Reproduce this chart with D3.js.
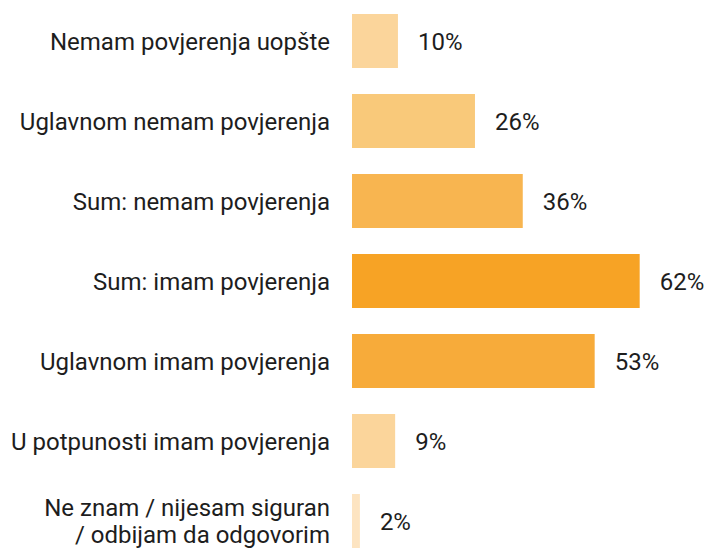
<!DOCTYPE html>
<html>
<head>
<meta charset="utf-8">
<script src="https://cdn.jsdelivr.net/npm/d3@7"></script>
<style>
  html, body { margin: 0; padding: 0; background: #ffffff; }
  svg { display: block; }
  text { font-family: Roboto, "Noto Sans", sans-serif; fill: #1d1d1d; }
</style>
</head>
<body>
<svg id="chart" width="705" height="548"></svg>
<script>
const categories = [
  "Nemam povjerenja uopšte",
  "Uglavnom nemam povjerenja",
  "Sum: nemam povjerenja",
  "Sum: imam povjerenja",
  "Uglavnom imam povjerenja",
  "U potpunosti imam povjerenja",
  "Ne znam / nijesam siguran\n/ odbijam da odgovorim"
];
const values = [9.9, 26.5, 36.8, 62, 52.3, 9.3, 1.7];
const valueLabels = ["10%", "26%", "36%", "62%", "53%", "9%", "2%"];
const colors = ["#FBD59B", "#F9C97A", "#F8B550", "#F7A325", "#F7AB3A", "#FBD59B", "#FDE4C1"];

const svg = d3.select("#chart");
const x0 = 352;
const x = d3.scaleLinear().domain([0, 100]).range([x0, x0 + 464]);
const y = d3.scaleBand()
  .domain(categories)
  .range([1, 561])
  .paddingInner(0.325)
  .paddingOuter(0.1625);

svg.selectAll("rect.bar")
  .data(categories)
  .join("rect")
  .attr("class", "bar")
  .attr("x", x(0))
  .attr("y", d => y(d))
  .attr("width", (d, i) => x(values[i]) - x(0))
  .attr("height", y.bandwidth())
  .attr("fill", (d, i) => colors[i]);

const fs = 24;
const lineH = 27;

svg.selectAll("text.cat")
  .data(categories)
  .join("text")
  .attr("class", "cat")
  .attr("text-anchor", "end")
  .attr("font-size", fs)
  .each(function(d) {
    const lines = d.split("\n");
    const cy = y(d) + y.bandwidth() / 2;
    const t = d3.select(this);
    lines.forEach((ln, k) => {
      t.append("tspan")
        .attr("x", x0 - 22)
        .attr("y", cy + (k - (lines.length - 1) / 2) * lineH)
        .attr("dy", "0.355em")
        .text(ln);
    });
  });

svg.selectAll("text.val")
  .data(categories)
  .join("text")
  .attr("class", "val")
  .attr("font-size", fs)
  .attr("x", (d, i) => x(values[i]) + 20)
  .attr("y", d => y(d) + y.bandwidth() / 2)
  .attr("dy", "0.355em")
  .text((d, i) => valueLabels[i]);
</script>
</body>
</html>
